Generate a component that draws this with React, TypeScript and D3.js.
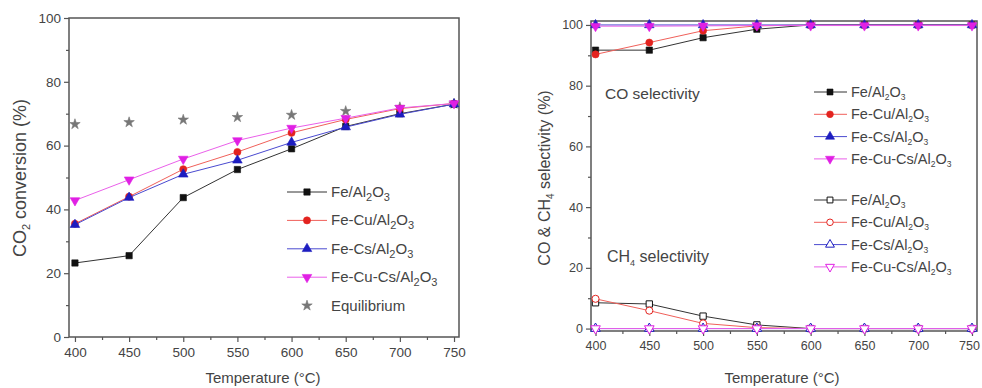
import React, { useEffect, useRef } from 'react';
import * as d3 from 'd3';

// temperatures (°C)
const temps = [400, 450, 500, 550, 600, 650, 700, 750];

// CO2 conversion (%)
const feConv = [23.2, 25.5, 43.7, 52.5, 59, 66, 70, 73];
const feCuConv = [35.5, 44, 52.6, 58, 64, 68.2, 71.6, 73.2];
const feCsConv = [35.2, 43.7, 51, 55.4, 61, 65.8, 69.8, 73];
const feCuCsConv = [42.8, 49.3, 55.8, 61.6, 65.5, 68.6, 71.8, 73.2];
const equilibrium = [66.7, 67.3, 68.1, 68.9, 69.6, 70.8, 72, 73.1];

// CO selectivity (%)
const feCO = [91.7, 91.7, 95.8, 98.6, 100, 100, 100, 100];
const feCuCO = [90.3, 94.2, 98.1, 99.7, 100, 100, 100, 100];
const feCsCO = [100, 100, 100, 100, 100, 100, 100, 100];
const feCuCsCO = [99.6, 99.6, 99.7, 99.8, 99.8, 99.8, 99.8, 99.8];

// CH4 selectivity (%)
const feCH4 = [8.5, 8.1, 4.1, 1.2, 0, 0, 0, 0];
const feCuCH4 = [9.8, 5.9, 1.7, 0.3, 0, 0, 0, 0];
const feCsCH4 = [0, 0, 0, 0, 0, 0, 0, 0];
const feCuCsCH4 = [0, 0, 0, 0, 0, 0, 0, 0];

const catalysts = ['Fe/Al_2O_3', 'Fe-Cu/Al_2O_3', 'Fe-Cs/Al_2O_3', 'Fe-Cu-Cs/Al_2O_3'];
const colors = ['#111111', '#e3231f', '#1d1dc0', '#e020e4'];
const lineColors = ['#333333', '#f0605a', '#4a4ad0', '#ea60ea'];
const shapes = ['square', 'circle', 'triangle', 'down'];

const yTicks = [0, 20, 40, 60, 80, 100];
const yMinor = [10, 30, 50, 70, 90];
const xTicks = [400, 450, 500, 550, 600, 650, 700, 750];
const xMinor = [425, 475, 525, 575, 625, 675, 725];

const FONT = '"Liberation Sans", Arial, Helvetica, sans-serif';
const AXIS = '#555';
const TEXT = '#444';

function symbolPath(shape: string, size: number) {
  if (shape === 'square') return d3.symbol().type(d3.symbolSquare).size(size)()!;
  if (shape === 'circle') return d3.symbol().type(d3.symbolCircle).size(size)()!;
  if (shape === 'star') return d3.symbol().type(d3.symbolStar).size(size)()!;
  return d3.symbol().type(d3.symbolTriangle).size(size)()!;
}

function addMarker(g: any, shape: string, x: number, y: number, size: number, color: string, open: boolean) {
  g.append('path')
    .attr('d', symbolPath(shape, size))
    .attr('transform', `translate(${x},${y})${shape === 'down' ? ' rotate(180)' : ''}`)
    .attr('fill', open ? '#fff' : color)
    .attr('stroke', color)
    .attr('stroke-width', open ? 1 : 0.6);
}

// text with "_2" style subscripts
function subText(t: any, label: string, subSize: number, shift: number) {
  let cur = 0;
  label.split(/(_\d)/).filter(Boolean).forEach((p) => {
    const sub = p.startsWith('_');
    const target = sub ? shift : 0;
    t.append('tspan')
      .attr('dy', target - cur)
      .attr('font-size', sub ? subSize : null)
      .text(sub ? p.slice(1) : p);
    cur = target;
  });
}

function drawFrame(svg: any, x: any, y: any, xPos: number, tickFont: number) {
  const [x0, x1] = x.range();
  const [y0, y1] = y.range();

  const gx = svg.append('g').attr('transform', `translate(0,${y0})`);
  gx.call(d3.axisBottom(x).tickValues(xTicks).tickSize(5).tickPadding(5).tickFormat(d3.format('d')));
  gx.append('g').call(d3.axisBottom(x).tickValues(xMinor).tickSize(3).tickFormat(() => ''));

  const gy = svg.append('g').attr('transform', `translate(${x0},0)`);
  gy.call(d3.axisLeft(y).tickValues(yTicks).tickSize(5).tickPadding(3).tickFormat(d3.format('d')));
  gy.append('g').call(d3.axisLeft(y).tickValues(yMinor).tickSize(3).tickFormat(() => ''));

  svg.selectAll('.domain').remove();
  svg.selectAll('.tick line').attr('stroke', AXIS).attr('stroke-width', 1.2);
  svg.selectAll('.tick text').attr('fill', TEXT).attr('font-size', tickFont).attr('font-family', FONT);

  svg.append('rect')
    .attr('x', x0).attr('y', y1)
    .attr('width', x1 - x0).attr('height', y0 - y1)
    .attr('fill', 'none').attr('stroke', AXIS).attr('stroke-width', 1.5);

  svg.append('text')
    .attr('x', xPos).attr('y', 383)
    .attr('text-anchor', 'middle')
    .attr('font-family', FONT).attr('font-size', 15).attr('fill', TEXT)
    .text('Temperature (°C)');

  return gx;
}

function drawSeries(svg: any, x: any, y: any, values: number[], i: number, open: boolean, size: number) {
  const line = d3.line<number>().x((_, k) => x(temps[k])).y((d) => y(d));
  svg.append('path')
    .attr('d', line(values))
    .attr('fill', 'none')
    .attr('stroke', lineColors[i])
    .attr('stroke-width', 1);
  values.forEach((v, k) => addMarker(svg, shapes[i], x(temps[k]), y(v), size, colors[i], open));
}

export default function App() {
  const ref = useRef<SVGSVGElement>(null);

  useEffect(() => {
    const svg = d3.select(ref.current);
    svg.selectAll('*').remove();

    // ---------- left panel: CO2 conversion ----------
    const left = svg.append('g');
    const xL = d3.scaleLinear().domain([394.5, 754.6]).range([69, 459]);
    const yL = d3.scaleLinear().domain([0, 100]).range([337, 18]);
    drawFrame(left, xL, yL, 263, 13.5);

    left.append('text')
      .attr('transform', 'translate(26,178) rotate(-90)')
      .attr('text-anchor', 'middle')
      .attr('font-family', FONT).attr('font-size', 18).attr('fill', TEXT)
      .call((t: any) => subText(t, 'CO_2 conversion (%)', 11, 4));

    equilibrium.forEach((v, k) => addMarker(left, 'star', xL(temps[k]), yL(v), 34, '#777', false));
    [feConv, feCuConv, feCsConv, feCuCsConv].forEach((vals, i) => drawSeries(left, xL, yL, vals, i, false, 40));

    // legend
    const legL = left.append('g');
    catalysts.forEach((name, i) => {
      const cy = 192 + i * 28.4;
      legL.append('line').attr('x1', 287).attr('x2', 327).attr('y1', cy).attr('y2', cy)
        .attr('stroke', lineColors[i]).attr('stroke-width', 1);
      addMarker(legL, shapes[i], 307, cy, 40, colors[i], false);
      const t = legL.append('text').attr('x', 331).attr('y', cy + 5)
        .attr('font-family', FONT).attr('font-size', 15).attr('fill', TEXT);
      subText(t, name, 11, 4);
    });
    const eqY = 192 + 4 * 28.4;
    addMarker(legL, 'star', 307, eqY, 34, '#777', false);
    legL.append('text').attr('x', 331).attr('y', eqY + 5)
      .attr('font-family', FONT).attr('font-size', 15).attr('fill', TEXT)
      .text('Equilibrium');

    // ---------- right panel: CO & CH4 selectivity ----------
    const right = svg.append('g');
    const xR = d3.scaleLinear().domain([395.8, 754.65]).range([591, 977]);
    const yR = d3.scaleLinear().domain([-0.8, 101.3]).range([331, 21]);
    const gxR = drawFrame(right, xR, yR, 782, 12.5);
    gxR.selectAll('.tick text').filter((d: any) => d === 750).attr('dx', -3);

    right.append('text')
      .attr('transform', 'translate(550,178) rotate(-90)')
      .attr('text-anchor', 'middle')
      .attr('font-family', FONT).attr('font-size', 16).attr('fill', TEXT)
      .call((t: any) => subText(t, 'CO & CH_4 selectivity (%)', 10, 4));

    [feCO, feCuCO, feCsCO, feCuCsCO].forEach((vals, i) => drawSeries(right, xR, yR, vals, i, false, 40));
    [feCH4, feCuCH4, feCsCH4, feCuCsCH4].forEach((vals, i) => drawSeries(right, xR, yR, vals, i, true, 40));

    right.append('text').attr('x', 605).attr('y', 99)
      .attr('font-family', FONT).attr('font-size', 15.5).attr('fill', TEXT)
      .text('CO selectivity');
    const ch4 = right.append('text').attr('x', 607).attr('y', 262)
      .attr('font-family', FONT).attr('font-size', 16).attr('fill', TEXT);
    subText(ch4, 'CH_4 selectivity', 9, 4);

    const legR = right.append('g');
    [false, true].forEach((open) => {
      catalysts.forEach((name, i) => {
        const cy = (open ? 200 : 92) + i * 22.3;
        legR.append('line').attr('x1', 814).attr('x2', 847).attr('y1', cy).attr('y2', cy)
          .attr('stroke', lineColors[i]).attr('stroke-width', 1);
        addMarker(legR, shapes[i], 830, cy, open ? 34 : 36, colors[i], open);
        const t = legR.append('text').attr('x', 851).attr('y', cy + 5)
          .attr('font-family', FONT).attr('font-size', 14.5).attr('fill', TEXT);
        subText(t, name, 8.5, 3);
      });
    });
  }, []);

  return (
    <svg
      ref={ref}
      width={982}
      height={388}
      style={{ position: 'absolute', left: 0, top: 0, background: '#fff' }}
    />
  );
}
